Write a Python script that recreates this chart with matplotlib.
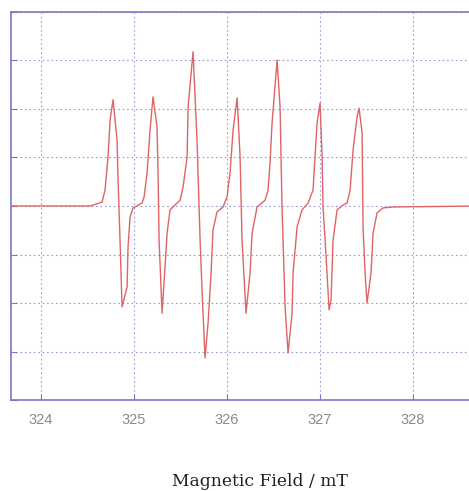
import numpy as np
import matplotlib
matplotlib.use("Agg")
import matplotlib.pyplot as plt

# spectrum trace (field in mT, signal in grid units)
field = [323.677, 324.527, 324.656, 324.688, 324.720, 324.742, 324.774,
         324.817, 324.828, 324.849, 324.871, 324.925, 324.935, 324.957,
         324.989, 325.086, 325.108, 325.140, 325.172, 325.204, 325.247,
         325.258, 325.269, 325.301, 325.333, 325.355, 325.387, 325.495,
         325.527, 325.570, 325.581, 325.634, 325.677, 325.710, 325.731,
         325.763, 325.796, 325.828, 325.849, 325.892, 325.957, 326.000,
         326.032, 326.065, 326.108, 326.140, 326.161, 326.204, 326.247,
         326.269, 326.323, 326.409, 326.441, 326.462, 326.484, 326.538,
         326.570, 326.591, 326.624, 326.656, 326.699, 326.710, 326.753,
         326.806, 326.871, 326.925, 326.946, 326.968, 327.000, 327.022,
         327.032, 327.065, 327.097, 327.118, 327.140, 327.183, 327.247,
         327.290, 327.323, 327.355, 327.398, 327.419, 327.452, 327.462,
         327.484, 327.505, 327.548, 327.570, 327.613, 327.677, 327.785,
         328.720]
signal = [0.00, 0.00, 0.08, 0.33, 1.01, 1.77, 2.19,
          1.36, 0.54, -0.70, -2.08, -1.67, -0.85, -0.23,
          -0.04, 0.06, 0.19, 0.68, 1.57, 2.25, 1.63,
          0.68, -0.70, -2.21, -1.26, -0.56, -0.08, 0.12,
          0.39, 1.01, 2.04, 3.18, 1.36, -0.70, -1.73,
          -3.13, -2.41, -1.38, -0.49, -0.12, -0.02, 0.19,
          0.68, 1.57, 2.23, 1.01, -0.70, -2.21, -1.38,
          -0.56, -0.02, 0.12, 0.33, 0.89, 1.71, 3.01,
          2.04, -0.02, -2.08, -3.03, -2.21, -1.38, -0.43,
          -0.08, 0.06, 0.33, 1.01, 1.71, 2.12, 1.01,
          -0.02, -1.05, -2.14, -1.94, -0.70, -0.08, 0.02,
          0.06, 0.33, 1.15, 1.84, 2.02, 1.51, -0.43,
          -1.38, -2.00, -1.38, -0.56, -0.14, -0.04, -0.02,
          0.00]

xticks = [324, 325, 326, 327, 328]
yticks = [-4, -3, -2, -1, 0, 1, 2, 3, 4]

frame = "#7878c8"

fig = plt.figure(figsize=(4.69, 4.91), dpi=100)
ax = fig.add_axes([0.0235, 0.1853, 1.0, 0.7903])

ax.plot(field, signal, color="#e06464", lw=1.0)

ax.set_xlim(323.677, 328.72)
ax.set_ylim(-4, 4)
ax.set_xticks(xticks)
ax.set_xticklabels([str(t) for t in xticks], family="Liberation Sans")
ax.set_yticks(yticks)
ax.set_yticklabels([])
ax.grid(True, ls=(0, (1.5, 2.5)), color="#9a9ad8", lw=0.8)

for s in ["left", "bottom", "top"]:
    ax.spines[s].set_color(frame)
    ax.spines[s].set_linewidth(1.2)
ax.spines["right"].set_visible(False)
ax.tick_params(direction="in", length=4, color=frame, labelcolor="#8a8a8a",
               labelsize=10.5, pad=9)

fig.text(0.555, 1 - 486 / 491, "Magnetic Field / mT", ha="center",
         va="baseline", family="DejaVu Serif", fontsize=12.3, color="#202020")

fig.savefig("out.png", dpi=100)
